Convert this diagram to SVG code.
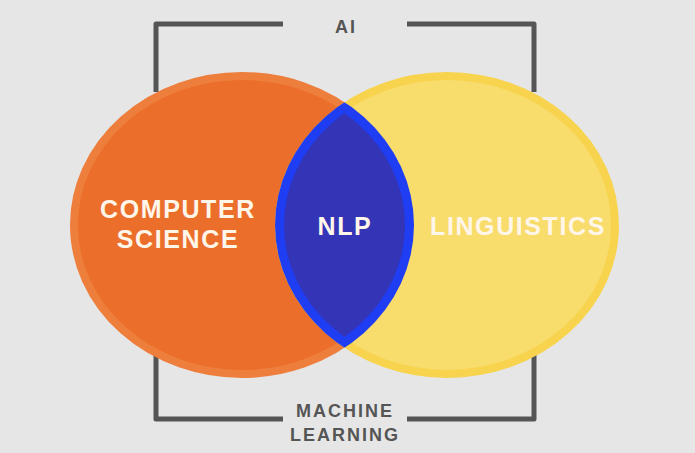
<svg xmlns="http://www.w3.org/2000/svg" width="695" height="453" viewBox="0 0 695 453">
<defs>
<style>
.br{fill:none;stroke:#555555;stroke-width:5;stroke-linejoin:round}
.lbl{font-family:"Liberation Sans",Arial,sans-serif;font-weight:bold;text-anchor:middle}
.dark{fill:#555555;font-size:18px;letter-spacing:2px}
.white{fill:#FFF6EA;font-size:25px;letter-spacing:1.6px}
</style>
<clipPath id="clipO"><ellipse cx="242" cy="225" rx="172" ry="153"/></clipPath>
</defs>
<rect width="695" height="453" fill="#E6E6E6"/>
<g id="connectors">
<path class="br" d="M156,92 V24 H283 M407,24 H534 V92"/>
<path class="br" d="M156,355 V419 H283 M407,419 H534 V355"/>
</g>
<g id="computer-science">
<ellipse cx="242" cy="225" rx="168" ry="149" fill="#EB6E2A" stroke="#EE7E3C" stroke-width="8"/>
</g>
<g id="linguistics">
<ellipse cx="447" cy="225" rx="168" ry="149" fill="#F8DC6C" stroke="#F7D34E" stroke-width="8"/>
</g>
<g id="nlp">
<ellipse cx="447" cy="225" rx="172" ry="153" fill="#1F3DF2" clip-path="url(#clipO)"/>
<g clip-path="url(#clipO)">
<ellipse cx="447" cy="225" rx="163" ry="144" fill="#3434B6" clip-path="url(#clipI)"/>
</g>
</g>
<defs><clipPath id="clipI"><ellipse cx="242" cy="225" rx="163" ry="144"/></clipPath></defs>
<g id="labels">
<text class="lbl dark" x="346" y="33">AI</text>
<text class="lbl dark" x="345" y="417">MACHINE</text>
<text class="lbl dark" x="345" y="441">LEARNING</text>
<text class="lbl white" x="178" y="218">COMPUTER</text>
<text class="lbl white" x="178" y="248">SCIENCE</text>
<text class="lbl white" x="345" y="235">NLP</text>
<text class="lbl white" x="518" y="235">LINGUISTICS</text>
</g>
</svg>
